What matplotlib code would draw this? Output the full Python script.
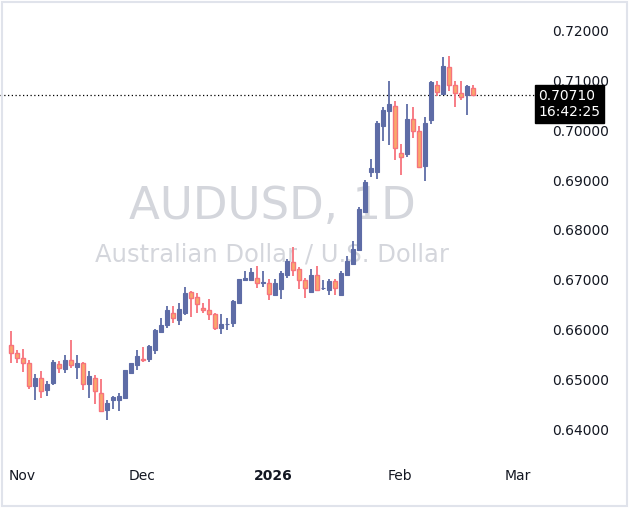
import numpy as np
import matplotlib.pyplot as plt
from matplotlib.patches import Rectangle

# daily candles, AUDUSD
opens = [0.6570, 0.6553, 0.6543, 0.6533, 0.6487, 0.6503, 0.6479, 0.6495, 0.6531, 0.6521,
         0.6540, 0.6527, 0.6533, 0.6491, 0.6505, 0.6473, 0.6440, 0.6459, 0.6460, 0.6465,
         0.6515, 0.6530, 0.6542, 0.6542, 0.6560, 0.6597, 0.6609, 0.6633, 0.6619, 0.6635,
         0.6675, 0.6665, 0.6643, 0.6640, 0.6632, 0.6605, 0.6611, 0.6613,
         0.6653, 0.6699, 0.6699, 0.6704, 0.6694, 0.6693, 0.6670, 0.6681, 0.6710, 0.6735,
         0.6721, 0.6700, 0.6677, 0.6710, 0.6683, 0.6680, 0.6698, 0.6670, 0.6710, 0.6731, 0.6760,
         0.6835, 0.6917, 0.6915, 0.7008, 0.7037, 0.7048, 0.6953, 0.6952, 0.7022, 0.6998,
         0.6928, 0.7020, 0.7090, 0.7072, 0.7125, 0.7090, 0.7073, 0.7071, 0.7083]
closes = [0.6553, 0.6543, 0.6535, 0.6487, 0.6505, 0.6478, 0.6492, 0.6536, 0.6525, 0.6540,
          0.6529, 0.6533, 0.6491, 0.6508, 0.6477, 0.6437, 0.6453, 0.6465, 0.6468, 0.6519,
          0.6534, 0.6548, 0.6539, 0.6567, 0.6600, 0.6610, 0.6640, 0.6623, 0.6642, 0.6675,
          0.6663, 0.6651, 0.6639, 0.6631, 0.6603, 0.6612, 0.6611, 0.6658,
          0.6702, 0.6704, 0.6717, 0.6693, 0.6696, 0.6672, 0.6693, 0.6714, 0.6738, 0.6719,
          0.6699, 0.6685, 0.6710, 0.6679, 0.6684, 0.6698, 0.6683, 0.6714, 0.6738, 0.6762, 0.6842,
          0.6895, 0.6923, 0.7013, 0.7041, 0.7052, 0.6963, 0.6947, 0.7022, 0.6999, 0.6927,
          0.7013, 0.7095, 0.7075, 0.7128, 0.7091, 0.7073, 0.7065, 0.7088, 0.7071]
highs = [0.6598, 0.6560, 0.6562, 0.6540, 0.6512, 0.6518, 0.6498, 0.6540, 0.6538, 0.6550,
         0.6580, 0.6550, 0.6537, 0.6518, 0.6510, 0.6502, 0.6460, 0.6468, 0.6475, 0.6520,
         0.6534, 0.6559, 0.6567, 0.6570, 0.6601, 0.6625, 0.6648, 0.6648, 0.6655, 0.6687,
         0.6678, 0.6675, 0.6655, 0.6662, 0.6635, 0.6632, 0.6625, 0.6660,
         0.6702, 0.6718, 0.6723, 0.6728, 0.6718, 0.6701, 0.6702, 0.6718, 0.6741, 0.6765,
         0.6727, 0.6705, 0.6721, 0.6728, 0.6700, 0.6702, 0.6702, 0.6718, 0.6748, 0.6778, 0.6845,
         0.6900, 0.6942, 0.7018, 0.7045, 0.7097, 0.7057, 0.6971, 0.7052, 0.7045, 0.7008,
         0.7027, 0.7099, 0.7097, 0.7145, 0.7148, 0.7098, 0.7098, 0.7091, 0.7090]
lows = [0.6533, 0.6533, 0.6517, 0.6481, 0.6459, 0.6463, 0.6467, 0.6490, 0.6515, 0.6513,
        0.6525, 0.6502, 0.6480, 0.6465, 0.6451, 0.6437, 0.6420, 0.6442, 0.6437, 0.6465,
        0.6515, 0.6520, 0.6537, 0.6537, 0.6552, 0.6595, 0.6605, 0.6615, 0.6609, 0.6629,
        0.6627, 0.6633, 0.6633, 0.6619, 0.6599, 0.6592, 0.6600, 0.6607,
        0.6652, 0.6699, 0.6699, 0.6683, 0.6687, 0.6660, 0.6669, 0.6662, 0.6705, 0.6708,
        0.6681, 0.6665, 0.6675, 0.6679, 0.6679, 0.6670, 0.6670, 0.6670, 0.6708, 0.6730, 0.6760,
        0.6835, 0.6907, 0.6902, 0.6979, 0.6970, 0.6940, 0.6910, 0.6947, 0.6983, 0.6927,
        0.6899, 0.7012, 0.7067, 0.7072, 0.7079, 0.7045, 0.7060, 0.7031, 0.7067]

last_price = 0.70710
countdown = "16:42:25"
month_ticks = [1.8, 21.8, 43.7, 64.8, 84.5]
month_labels = ["Nov", "Dec", "2026", "Feb", "Mar"]
price_ticks = [0.64, 0.65, 0.66, 0.67, 0.68, 0.69, 0.70, 0.71, 0.72]

up_col = "#5e6ca6"
dn_edge = "#f7737d"
dn_fill = "#f9a86b"

fig = plt.figure(figsize=(6.29, 5.08), dpi=100)
ax = fig.add_axes([0, 50 / 508, 535 / 629, 458 / 508])

x = np.arange(len(opens))
o = np.array(opens); c = np.array(closes)
up = c >= o
ax.vlines(x[up], np.array(lows)[up], np.array(highs)[up], color=up_col, lw=1.3, zorder=2)
ax.vlines(x[~up], np.array(lows)[~up], np.array(highs)[~up], color=dn_edge, lw=1.3, zorder=2)
body = np.maximum(np.abs(c - o), 0.00006)
ax.bar(x[up], body[up], bottom=np.minimum(o, c)[up], width=0.72,
       color=up_col, edgecolor=up_col, lw=0.8, zorder=3)
ax.bar(x[~up], body[~up], bottom=np.minimum(o, c)[~up], width=0.72,
       color=dn_fill, edgecolor=dn_edge, lw=1.0, zorder=3)

ax.axhline(last_price, color="black", ls=(0, (1, 2)), lw=0.9, zorder=1)

ax.text(0.51, 0.55, "AUDUSD, 1D", transform=ax.transAxes, ha="center", va="center",
        fontsize=32.5, color="#d4d6dc", zorder=0)
ax.text(0.508, 0.445, "Australian Dollar / U.S. Dollar", transform=ax.transAxes,
        ha="center", va="center", fontsize=17.5, color="#d4d6dc", zorder=0)

ax.set_xlim(-1.83, 87.3)
ax.set_ylim(0.6344, 0.726)
for s in ax.spines.values():
    s.set_visible(False)
ax.yaxis.tick_right()
ax.set_yticks(price_ticks)
ax.set_yticklabels([f"{p:.5f}" for p in price_ticks])
ax.tick_params(axis="y", length=0, pad=12, labelsize=10, labelcolor="#131722")
ax.set_xticks(month_ticks)
ax.set_xticklabels(month_labels)
ax.tick_params(axis="x", length=0, pad=8, labelsize=10, labelcolor="#131722")
ax.get_xticklabels()[2].set_fontweight("bold")

# last price label
ax.annotate(f"{last_price:.5f}\n{countdown}", xy=(1.006, last_price), xycoords=("axes fraction", "data"),
            ha="left", va="top", fontsize=10, color="white", linespacing=1.2,
            xytext=(0, 4), textcoords="offset points",
            bbox=dict(boxstyle="square,pad=0.25", fc="black", ec="black"), zorder=5)

fig.patches.append(Rectangle((0.003, 0.003), 0.994, 0.994, transform=fig.transFigure,
                             fill=False, ec="#e0e3eb", lw=1.5))
fig.savefig("out.png", dpi=100)
